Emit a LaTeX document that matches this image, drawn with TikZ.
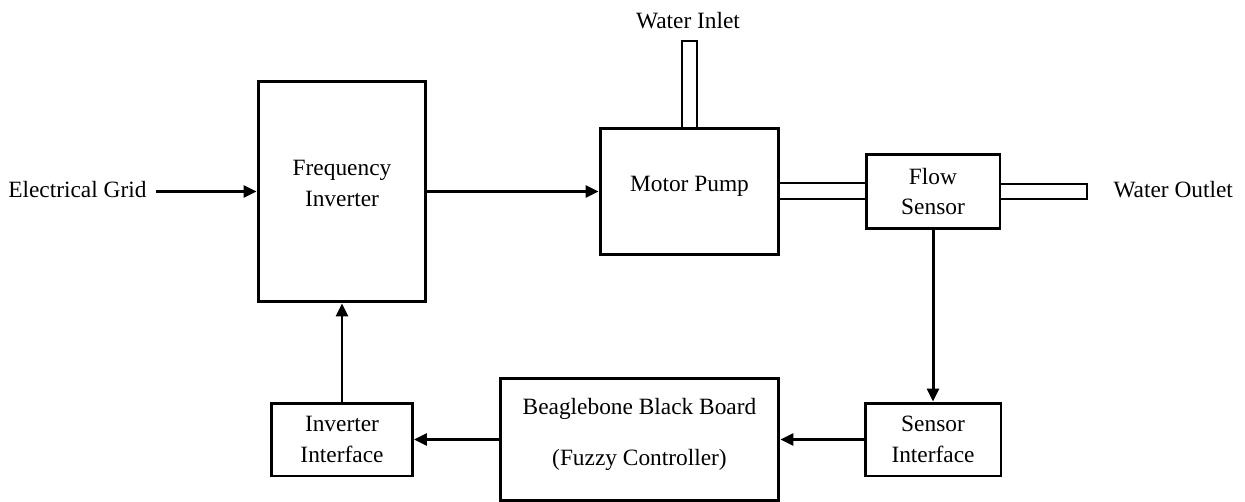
\documentclass[tikz,border=0pt]{standalone}
\usepackage{fontspec}
\setmainfont{Liberation Serif}
\usetikzlibrary{arrows.meta}
\begin{document}
\begin{tikzpicture}[x=0.02cm, y=-0.02cm, >={Triangle[length=0.26cm, width=0.24cm]}, line width=1.7pt,
  font=\fontsize{13.3pt}{17.6pt}\selectfont,
  blk/.style={draw, rectangle, align=center, inner sep=0pt},
  pipe/.style={line width=1.1pt}]
\useasboundingbox (0,0) rectangle (1245,501);
\node[blk, minimum width=3.36cm, minimum height=4.42cm, text depth=0.34cm](FI) at (342,191.5){Frequency\\Inverter};
\node[blk, minimum width=3.58cm, minimum height=2.52cm, text depth=0.3cm](MP) at (689.5,191.5){Motor Pump};
\node[blk, minimum width=2.68cm, minimum height=1.48cm](FS) at (933,191.5){Flow\\Sensor};
\node[blk, minimum width=2.72cm, minimum height=1.46cm](SI) at (933,439.5){Sensor\\Interface};
\node[blk, minimum width=5.58cm, minimum height=2.44cm, text depth=0.3cm](BB) at (639.5,439.5){Beaglebone Black Board\\[11pt](Fuzzy Controller)};
\node[blk, minimum width=2.82cm, minimum height=1.46cm](II) at (342,439.5){Inverter\\Interface};
\node[anchor=east, inner sep=0pt, inner xsep=0.16cm](grid) at (156,190){Electrical Grid};
\node(inlet) at (688,21){Water Inlet};
\node[anchor=west, inner sep=0pt](outlet) at (1112,190){Water Outlet};
% pipes
\coordinate (inL) at (682,41);
\coordinate (inR) at (697,41);
\coordinate (pT) at (820,183);
\coordinate (pB) at (820,199);
\coordinate (oT) at (1087,184);
\coordinate (oB) at (1087,199);
\draw[pipe](inL |- MP.north)--(inL)--(inR)--(inR |- MP.north);
\draw[pipe](MP.east |- pT)--(FS.west |- pT);
\draw[pipe](MP.east |- pB)--(FS.west |- pB);
\draw[pipe](FS.east |- oT)--(oT)--(oB)--(FS.east |- oB);
% signals
\draw[->](grid.east |- FI.west)--(FI.west);
\draw[->](FI)--(MP);
\draw[->](FS)--(SI);
\draw[->](SI)--(BB);
\draw[->](BB)--(II);
\draw[->](II)--(FI);
\end{tikzpicture}
\end{document}
